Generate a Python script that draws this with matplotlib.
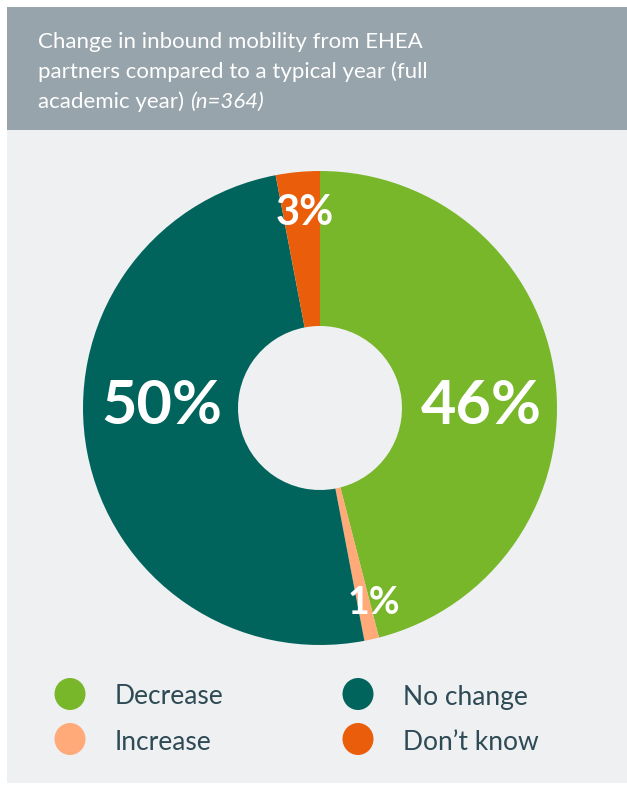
import matplotlib as mpl
import matplotlib.pyplot as plt
from matplotlib.patches import Rectangle, Ellipse

mpl.use("Agg")
plt.rcParams["font.family"] = ["Lato", "DejaVu Sans"]

categories = ["Decrease", "Increase", "No change", "Don\u2019t know"]
values = [46, 1, 50, 3]
labels = ["46%", "1%", "50%", "3%"]

colors = ["#78B72A", "#FFAA78", "#00645D", "#EA5E0B"]
label_size = [44, 27, 44, 30]
# label placement in units of the outer radius
label_xy = [(0.68, 0.01), (0.228, -0.823), (-0.667, 0.01), (-0.063, 0.823)]

W, H = 627, 787
fig = plt.figure(figsize=(W / 100, H / 100), dpi=100)
fig.patch.set_facecolor("white")


def px(x, y):
    return x / W, 1 - y / H


# panel background + title band
fig.patches.append(Rectangle(px(7, 783), 620 / W, 653 / H, transform=fig.transFigure,
                             facecolor="#EEF0F2", edgecolor="none", zorder=-2))
fig.patches.append(Rectangle(px(7, 130), 620 / W, 123 / H, transform=fig.transFigure,
                             facecolor="#97A4AB", edgecolor="none", zorder=-2))

title_lines = ["Change in inbound mobility from EHEA",
               "partners compared to a typical year (full",
               "academic year)"]
for i, line in enumerate(title_lines):
    t = fig.text(*px(38, 42 + 30 * i), line, color="white", fontsize=16,
                 va="center", ha="left")
# italic n
fig.canvas.draw()
bb = t.get_window_extent()
fig.text(bb.x1 / W + 6 / W, 1 - 102 / H, "(n=364)", color="white", fontsize=16,
         style="italic", va="center", ha="left")

# donut
cx, cy, r = 320, 408, 237
ax = fig.add_axes([(cx - r) / W, 1 - (cy + r) / H, 2 * r / W, 2 * r / H])
ax.set_zorder(2)
wedges, _ = ax.pie(values, colors=colors, startangle=90, counterclock=False,
                   radius=1, wedgeprops=dict(width=1 - 82 / 237, edgecolor="none"))
ax.set_xlim(-1, 1)
ax.set_ylim(-1, 1)
ax.set_aspect("equal")
ax.axis("off")

for (lx, ly), lab, fs in zip(label_xy, labels, label_size):
    ax.text(lx, ly, lab, color="white", fontsize=fs,
            fontweight="bold", ha="center", va="center")

# legend
leg_pos = [(70, 694), (70, 739), (358, 694), (358, 739)]
for (lx, ly), cat, col in zip(leg_pos, categories, colors):
    fig.patches.append(Ellipse(px(lx, ly), 31 / W, 32 / H, transform=fig.transFigure,
                               facecolor=col, edgecolor="none"))
    fig.text(*px(lx + 45, ly + 3), cat, color="#2E4A55", fontsize=19,
             va="center", ha="left")

fig.savefig("out.png", dpi=100, facecolor="white")
